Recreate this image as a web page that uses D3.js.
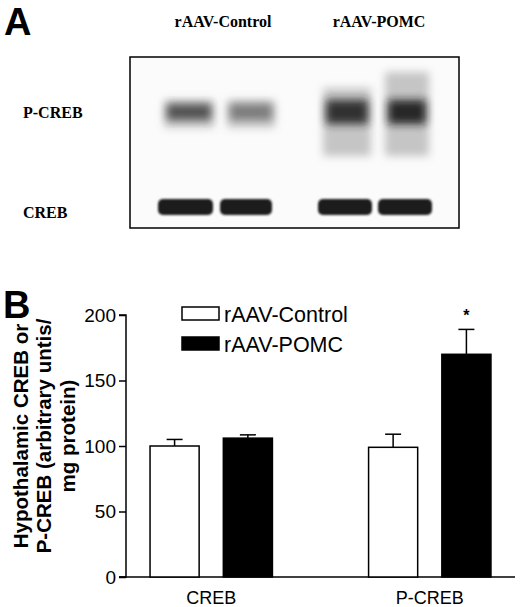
<!DOCTYPE html>
<html><head><meta charset="utf-8">
<script src="https://cdn.jsdelivr.net/npm/d3@7"></script>
<style>body{margin:0;background:#fff}</style></head>
<body><svg id="c" width="520" height="607"></svg>
<script>
const categories = ["CREB", "P-CREB"];
const seriesNames = ["rAAV-Control", "rAAV-POMC"];
const controlValues = [100, 99];
const controlErrors = [5, 10];
const pomcValues = [106, 170];
const pomcErrors = [2.5, 19];
const yTicks = [0, 50, 100, 150, 200];
const significant = [false, true];
// blot band intensities (relative), lanes: ctrl1, ctrl2, pomc1, pomc2
const pcrebIntensity = [0.8, 0.6, 0.95, 1.0];
const crebIntensity = [1, 1, 1, 1];

const svg = d3.select("#c");
const sans = "'Liberation Sans', Arial, sans-serif";
const serif = "'Liberation Serif', 'Times New Roman', serif";

// ---------- Panel A ----------
svg.append("text").attr("x",4).attr("y",35).attr("font-family",sans).attr("font-weight","bold").attr("font-size",38).text("A");
svg.append("text").attr("x",223).attr("y",27).attr("text-anchor","middle").attr("font-family",serif).attr("font-weight","bold").attr("font-size",16).text("rAAV-Control");
svg.append("text").attr("x",379).attr("y",27).attr("text-anchor","middle").attr("font-family",serif).attr("font-weight","bold").attr("font-size",16).text("rAAV-POMC");
svg.append("text").attr("x",23).attr("y",118).attr("font-family",serif).attr("font-weight","bold").attr("font-size",16).text("P-CREB");
svg.append("text").attr("x",23).attr("y",218).attr("font-family",serif).attr("font-weight","bold").attr("font-size",16).text("CREB");

const defs = svg.append("defs");
defs.append("filter").attr("id","b1").attr("x","-50%").attr("y","-50%").attr("width","200%").attr("height","200%")
  .append("feGaussianBlur").attr("stdDeviation",4);
defs.append("filter").attr("id","b2").attr("x","-50%").attr("y","-50%").attr("width","200%").attr("height","200%")
  .append("feGaussianBlur").attr("stdDeviation",1.2);
defs.append("clipPath").attr("id","blotclip").append("rect").attr("x",130).attr("y",57).attr("width",329).attr("height",171);

const laneCenters = [189, 251, 347, 407];
const laneW = [50, 48, 48, 44];
const shade = d3.interpolateRgb("#ffffff", "#151515");
const gB = svg.append("g").attr("clip-path","url(#blotclip)");
gB.append("rect").attr("x",130).attr("y",57).attr("width",329).attr("height",171).attr("fill","#fbfbfb");
pcrebIntensity.forEach((v,i)=>{
  const cx = laneCenters[i], w = laneW[i];
  if (i>=2){
    gB.append("rect").attr("x",cx-w/2).attr("y",i==3?72:88).attr("width",w).attr("height",i==3?84:68)
      .attr("fill","#999").attr("opacity",0.55).attr("filter","url(#b1)");
  } else {
    gB.append("rect").attr("x",cx-w/2).attr("y",100).attr("width",w).attr("height",28)
      .attr("fill","#aaa").attr("opacity",0.6).attr("filter","url(#b1)");
  }
  gB.append("rect").attr("x",cx-w/2+3).attr("y",i>=2?100:104).attr("width",w-6).attr("height",i>=2?24:16)
    .attr("fill",shade(v)).attr("opacity",0.9).attr("filter","url(#b1)");
});
const crebL = [158,220,318,378], crebR=[213,272,372,432];
crebIntensity.forEach((v,i)=>{
  gB.append("rect").attr("x",crebL[i]).attr("y",199).attr("width",crebR[i]-crebL[i]).attr("height",16).attr("rx",5)
    .attr("fill","#1a1a1a").attr("opacity",v).attr("filter","url(#b2)");
});
svg.append("rect").attr("x",130).attr("y",57).attr("width",329).attr("height",171).attr("fill","none").attr("stroke","#000").attr("stroke-width",1.5);

// ---------- Panel B ----------
svg.append("text").attr("x",3).attr("y",318).attr("font-family",sans).attr("font-weight","bold").attr("font-size",38).text("B");

const y = d3.scaleLinear().domain([0,200]).range([577,315]);
const x0 = d3.scaleBand().domain(categories).range([126,515]).paddingInner(0.44).paddingOuter(0.11);
const x1 = d3.scaleBand().domain(seriesNames).range([0,x0.bandwidth()]).paddingInner(0.33);

const ax = svg.append("g").attr("transform","translate(126,0)")
  .call(d3.axisLeft(y).tickValues(yTicks).tickSize(7).tickPadding(3));
ax.select(".domain").attr("stroke-width",1.5).attr("d","M-7,577H0V315H-7");
ax.selectAll(".tick line").attr("stroke-width",1.5);
ax.selectAll("text").attr("font-family",sans).attr("font-size",19).attr("fill","#000");

svg.append("line").attr("x1",119).attr("x2",515).attr("y1",577).attr("y2",577).attr("stroke","#000").attr("stroke-width",1.5);

const data = categories.map((c,i)=>({c, vals:[
  {s:seriesNames[0], v:controlValues[i], e:controlErrors[i]},
  {s:seriesNames[1], v:pomcValues[i], e:pomcErrors[i]}], sig:significant[i]}));
const g = svg.selectAll(".grp").data(data).join("g").attr("transform",d=>`translate(${x0(d.c)},0)`);
const bars = g.selectAll(".bar").data(d=>d.vals).join("g");
bars.append("line").attr("x1",d=>x1(d.s)+x1.bandwidth()/2).attr("x2",d=>x1(d.s)+x1.bandwidth()/2)
  .attr("y1",d=>y(d.v)).attr("y2",d=>y(d.v+d.e)).attr("stroke","#000").attr("stroke-width",1.5);
bars.append("line").attr("x1",d=>x1(d.s)+x1.bandwidth()/2-8).attr("x2",d=>x1(d.s)+x1.bandwidth()/2+8)
  .attr("y1",d=>y(d.v+d.e)).attr("y2",d=>y(d.v+d.e)).attr("stroke","#000").attr("stroke-width",1.5);
bars.append("rect").attr("x",d=>x1(d.s)).attr("width",x1.bandwidth()).attr("y",d=>y(d.v)).attr("height",d=>y(0)-y(d.v))
  .attr("fill",(d,i)=>i?"#000":"#fff").attr("stroke","#000").attr("stroke-width",1.5);
g.filter(d=>d.sig).append("text").attr("x",x1(seriesNames[1])+x1.bandwidth()/2).attr("y",d=>y(d.vals[1].v+d.vals[1].e)-8)
  .attr("text-anchor","middle").attr("font-family",sans).attr("font-weight","bold").attr("font-size",16).text("*");

svg.append("g").selectAll("text").data(categories).join("text")
  .attr("x",d=>x0(d)+x0.bandwidth()/2).attr("y",604).attr("text-anchor","middle")
  .attr("font-family",sans).attr("font-size",18).text(d=>d);

const lg = svg.append("g");
seriesNames.forEach((s,i)=>{
  lg.append("rect").attr("x",182).attr("y",307+i*30).attr("width",37).attr("height",13)
    .attr("fill",i?"#000":"#fff").attr("stroke","#000").attr("stroke-width",1.5);
  lg.append("text").attr("x",224).attr("y",322+i*30).attr("font-family",sans).attr("font-size",21.5).text(s);
});

["Hypothalamic CREB or","P-CREB (arbitrary untis/","mg protein)"].forEach((t,i)=>{
  svg.append("text").attr("transform",`translate(${[28,51,75][i]},436) rotate(-90)`).attr("font-family",sans)
    .attr("font-weight","bold").attr("font-size",20.5).attr("text-anchor","middle").text(t);
});
</script></body></html>
